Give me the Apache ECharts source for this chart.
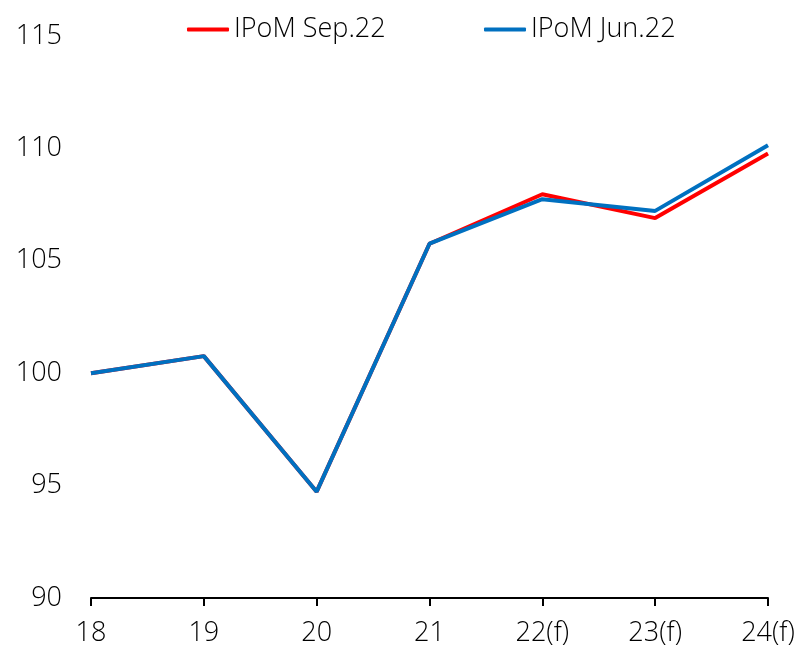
<!DOCTYPE html>
<html>
<head>
<meta charset="utf-8">
<script src="https://cdn.jsdelivr.net/npm/echarts@6/dist/echarts.min.js"></script>
<style>
  html, body { margin: 0; padding: 0; background: #fff; }
  #main { width: 800px; height: 653px; }
</style>
</head>
<body>
<div id="main"></div>
<script>
var categories = ['18', '19', '20', '21', '22(f)', '23(f)', '24(f)'];
var ipomSep22 = [100, 100.76, 94.73, 105.76, 107.96, 106.9, 109.77];
var ipomJun22 = [100, 100.76, 94.73, 105.76, 107.74, 107.22, 110.14];

var myChart = echarts.init(document.getElementById('main'));
var labelFont = { fontFamily: 'Open Sans', fontSize: 27, fontWeight: 300, color: '#000' };

var option = {
    animation: false,
    grid: { left: 91, right: 32, top: 36, bottom: 55 },
    legend: [
        {
            left: 182, top: 11,
            data: ['IPoM Sep.22'],
            itemWidth: 42, itemHeight: 4,
            itemGap: 4,
            icon: 'roundRect',
            textStyle: labelFont
        },
        {
            left: 479, top: 11,
            data: ['IPoM Jun.22'],
            itemWidth: 42, itemHeight: 4,
            icon: 'roundRect',
            textStyle: labelFont
        }
    ],
    xAxis: {
        type: 'category',
        data: categories,
        boundaryGap: false,
        axisLine: { lineStyle: { color: '#000', width: 2 } },
        axisTick: { alignWithLabel: true, length: 8, lineStyle: { color: '#000', width: 2 } },
        axisLabel: Object.assign({ margin: 22 }, labelFont)
    },
    yAxis: {
        type: 'value',
        min: 90,
        max: 115,
        interval: 5,
        axisLine: { show: false },
        axisTick: { show: false },
        splitLine: { show: false },
        axisLabel: Object.assign({ margin: 29 }, labelFont)
    },
    series: [
        {
            name: 'IPoM Sep.22',
            type: 'line',
            data: ipomSep22,
            symbol: 'none',
            color: '#ff0000',
            lineStyle: { width: 4, color: '#ff0000' }
        },
        {
            name: 'IPoM Jun.22',
            type: 'line',
            data: ipomJun22,
            symbol: 'none',
            color: '#0070c0',
            lineStyle: { width: 4, color: '#0070c0' }
        }
    ]
};

myChart.setOption(option);
</script>
</body>
</html>
